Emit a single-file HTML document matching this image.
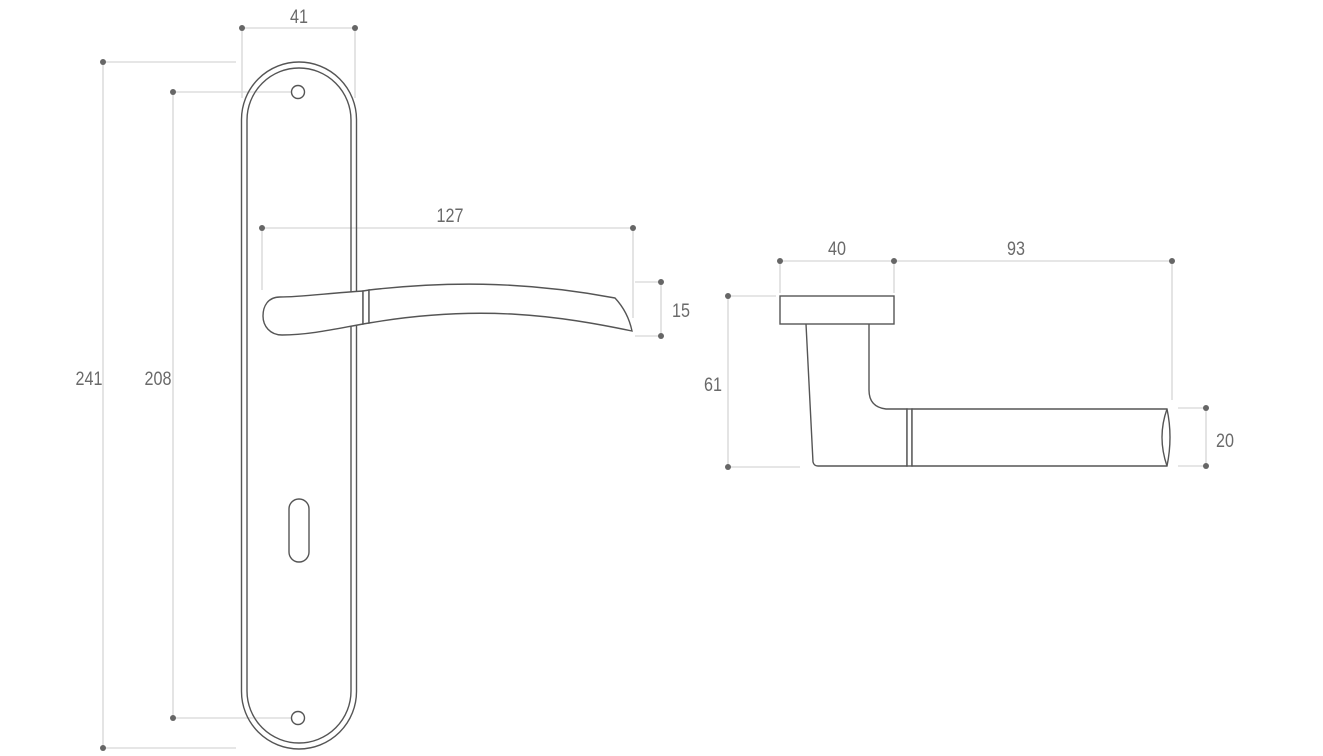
<!DOCTYPE html>
<html><head><meta charset="utf-8"><style>
html,body{margin:0;padding:0;background:#fff;}
svg{display:block}
text{font-family:"Liberation Sans",sans-serif;font-size:19px;fill:#6a6a6a;}
</style></head><body>
<svg width="1323" height="756" viewBox="0 0 1323 756" xmlns="http://www.w3.org/2000/svg">
<g stroke="#d6d6d6" stroke-width="1.3" fill="none">
 <line x1="242" y1="28" x2="355" y2="28"/>
 <line x1="242" y1="28" x2="242" y2="98"/>
 <line x1="355" y1="28" x2="355" y2="98"/>
 <line x1="103" y1="62" x2="236" y2="62"/>
 <line x1="103" y1="62" x2="103" y2="748"/>
 <line x1="103" y1="748" x2="236" y2="748"/>
 <line x1="173" y1="92" x2="292" y2="92"/>
 <line x1="173" y1="92" x2="173" y2="718"/>
 <line x1="173" y1="718" x2="292" y2="718"/>
 <line x1="262" y1="228" x2="633" y2="228"/>
 <line x1="262" y1="228" x2="262" y2="290"/>
 <line x1="633" y1="228" x2="633" y2="318"/>
 <line x1="635" y1="282" x2="661" y2="282"/>
 <line x1="635" y1="336" x2="661" y2="336"/>
 <line x1="661" y1="282" x2="661" y2="336"/>
 <line x1="780" y1="261" x2="1172" y2="261"/>
 <line x1="780" y1="261" x2="780" y2="293"/>
 <line x1="894" y1="261" x2="894" y2="293"/>
 <line x1="1172" y1="261" x2="1172" y2="400"/>
 <line x1="728" y1="296" x2="776" y2="296"/>
 <line x1="728" y1="296" x2="728" y2="467"/>
 <line x1="728" y1="467" x2="800" y2="467"/>
 <line x1="1178" y1="408" x2="1206" y2="408"/>
 <line x1="1178" y1="466" x2="1206" y2="466"/>
 <line x1="1206" y1="408" x2="1206" y2="466"/>
</g>
<g fill="#666">
 <circle cx="242" cy="28" r="3"/><circle cx="355" cy="28" r="3"/>
 <circle cx="103" cy="62" r="3"/><circle cx="103" cy="748" r="3"/>
 <circle cx="173" cy="92" r="3"/><circle cx="173" cy="718" r="3"/>
 <circle cx="262" cy="228" r="3"/><circle cx="633" cy="228" r="3"/>
 <circle cx="661" cy="282" r="3"/><circle cx="661" cy="336" r="3"/>
 <circle cx="780" cy="261" r="3"/><circle cx="894" cy="261" r="3"/><circle cx="1172" cy="261" r="3"/>
 <circle cx="728" cy="296" r="3"/><circle cx="728" cy="467" r="3"/>
 <circle cx="1206" cy="408" r="3"/><circle cx="1206" cy="466" r="3"/>
</g>
<g text-anchor="middle">
 <text x="299" y="23" transform="translate(299 0) scale(0.85 1) translate(-299 0)">41</text>
 <text x="89" y="385" transform="translate(89 0) scale(0.85 1) translate(-89 0)">241</text>
 <text x="158" y="385" transform="translate(158 0) scale(0.85 1) translate(-158 0)">208</text>
 <text x="450" y="222" transform="translate(450 0) scale(0.85 1) translate(-450 0)">127</text>
 <text x="681" y="317" transform="translate(681 0) scale(0.85 1) translate(-681 0)">15</text>
 <text x="837" y="255" transform="translate(837 0) scale(0.85 1) translate(-837 0)">40</text>
 <text x="1016" y="255" transform="translate(1016 0) scale(0.85 1) translate(-1016 0)">93</text>
 <text x="713" y="391" transform="translate(713 0) scale(0.85 1) translate(-713 0)">61</text>
 <text x="1225" y="447" transform="translate(1225 0) scale(0.85 1) translate(-1225 0)">20</text>
</g>
<g stroke="#555" stroke-width="1.4" fill="none">
 <rect x="241.5" y="62" width="115" height="687" rx="57.5" ry="57.5"/>
 <rect x="247" y="68" width="104" height="675" rx="52" ry="52"/>
 <circle cx="298" cy="92" r="6.5"/>
 <circle cx="298" cy="718" r="6.5"/>
 <rect x="289" y="499" width="20" height="63" rx="10" ry="10"/>
 <path d="M363 291 C330 293 300 297 280 297 C268 297 263 306 263 316 C263 326 270 335 282 335 C310 335 340 328 363 324 Z" fill="#fff"/>
 <path d="M363 291 L369 290 L369 323 L363 324 Z" fill="#fff"/>
 <path d="M369 290 C440 282 520 280 615 298 Q628 312 632 331 C560 316 480 304 369 323 Z" fill="#fff"/>
 <path d="M806 324 L813 462 Q814 466 818 466 L907 466 L907 409 L886 409 Q869 407 869 390 L869 324" fill="#fff"/>
 <rect x="780" y="296" width="114" height="28" fill="#fff"/>
 <rect x="907" y="409" width="5" height="57" fill="#fff"/>
 <path d="M912 409 L1167 409 Q1173 437 1167 466 L912 466 Z" fill="#fff"/>
 <path d="M1167 409 Q1157 437 1167 466"/>
</g>
</svg>
</body></html>
